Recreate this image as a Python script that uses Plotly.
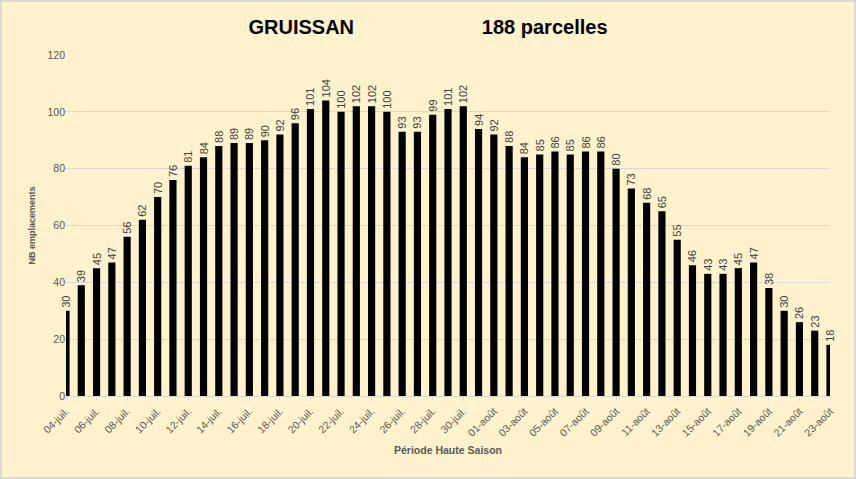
import plotly.graph_objects as go

dates = [
    "04-juil.", "05-juil.", "06-juil.", "07-juil.", "08-juil.", "09-juil.", "10-juil.",
    "11-juil.", "12-juil.", "13-juil.", "14-juil.", "15-juil.", "16-juil.", "17-juil.",
    "18-juil.", "19-juil.", "20-juil.", "21-juil.", "22-juil.", "23-juil.", "24-juil.",
    "25-juil.", "26-juil.", "27-juil.", "28-juil.", "29-juil.", "30-juil.", "31-juil.",
    "01-août", "02-août", "03-août", "04-août", "05-août", "06-août", "07-août",
    "08-août", "09-août", "10-août", "11-août", "12-août", "13-août", "14-août",
    "15-août", "16-août", "17-août", "18-août", "19-août", "20-août", "21-août",
    "22-août", "23-août",
]
emplacements = [
    30, 39, 45, 47, 56, 62, 70, 76, 81, 84, 88, 89, 89, 90, 92, 96, 101, 104, 100, 102,
    102, 100, 93, 93, 99, 101, 102, 94, 92, 88, 84, 85, 86, 85, 86, 86, 80, 73, 68, 65,
    55, 46, 43, 43, 45, 47, 38, 30, 26, 23, 18,
]
tick_labels = dates[::2]
y_ticks = [0, 20, 40, 60, 80, 100, 120]

W, H = 856, 479
ML, MR, MT, MB = 66, 26, 55, 83
PW, PH = W - ML - MR, H - MT - MB

BG = "#FFF2CC"
GRID = "#D9D9D9"
TXT = "#595959"
FONT = "Liberation Sans"

fig = go.Figure()
fig.add_trace(go.Bar(
    x=dates, y=emplacements,
    marker=dict(color="#000000", line=dict(width=0)),
    cliponaxis=True, hoverinfo="x+y", showlegend=False,
))
fig.add_trace(go.Bar(
    x=dates, y=emplacements,
    marker=dict(color="rgba(0,0,0,0)", line=dict(width=0)),
    text=[str(v) for v in emplacements],
    textposition="outside", textangle=-90, constraintext="none",
    textfont=dict(family=FONT, size=11, color="#404040"),
    cliponaxis=False, hoverinfo="skip", showlegend=False,
))

nb = "\u00a0" * 23
fig.update_layout(
    width=W, height=H,
    margin=dict(l=ML, r=MR, t=MT, b=MB, autoexpand=False),
    paper_bgcolor=BG, plot_bgcolor=BG,
    barmode="overlay", bargap=0.53,
    font=dict(family=FONT, color=TXT),
    title=dict(
        text="GRUISSAN" + nb + "188 parcelles",
        font=dict(family=FONT, size=20, color="#000000", weight="bold"),
        x=0.5, xref="container", xanchor="center",
        y=1 - 27 / H, yref="container", yanchor="middle",
    ),
    xaxis=dict(
        type="category", range=[0, len(dates) - 1],
        tickvals=tick_labels, ticktext=tick_labels,
        tickangle=-45, tickfont=dict(family=FONT, size=10.5, color=TXT),
        ticks="outside", ticklen=4, tickcolor=GRID, tickwidth=1,
        showline=True, linecolor=GRID, linewidth=1,
        showgrid=False, zeroline=False, automargin=False,
        title=dict(text="<b>Période Haute Saison</b>",
                   font=dict(family=FONT, size=10.5, color=TXT), standoff=8),
    ),
    yaxis=dict(
        range=[0, 120], tickvals=y_ticks,
        tickfont=dict(family=FONT, size=10.5, color=TXT),
        showgrid=True, gridcolor=GRID, gridwidth=1,
        zeroline=False, showline=False, ticks="", automargin=False,
        title=dict(text="<b>NB emplacements</b>",
                   font=dict(family=FONT, size=9, color=TXT), standoff=10),
    ),
    shapes=[dict(
        type="rect", xref="paper", yref="paper", layer="above",
        x0=(-ML + 1) / PW, x1=(W - ML - 1) / PW,
        y0=(-MB + 1) / PH, y1=(H - MB - 1) / PH,
        line=dict(color=GRID, width=2), fillcolor="rgba(0,0,0,0)",
    )],
)

fig.write_html(
    "out.html",
    config={"displayModeBar": False},
    post_script="document.body.style.margin='0';document.body.style.overflow='hidden';",
)
